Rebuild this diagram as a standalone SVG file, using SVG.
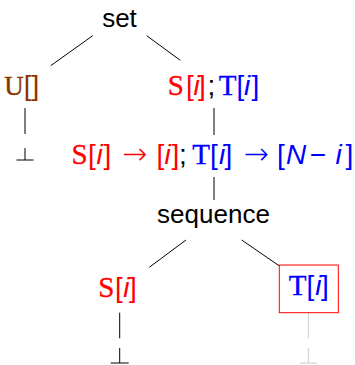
<svg xmlns="http://www.w3.org/2000/svg" width="355" height="365" viewBox="0 0 355 365">
<style>
.lbl{font-family:"Liberation Sans",Arial,sans-serif;font-size:26px;fill:#000}
.row{text-anchor:middle}
.m{font-family:"Liberation Sans",Arial,sans-serif;font-size:28px}
.ar{font-family:"DejaVu Sans",sans-serif;font-size:30px;font-weight:200}
.tt{font-family:"Liberation Serif","Times New Roman",serif;font-size:29px;stroke-width:0.35}
.it{font-style:italic}
.red{fill:#ff0000}
.red.tt{stroke:#ff0000}
.blue{fill:#0000ff}
.blue.tt{stroke:#0000ff}
.brown{fill:#8b3300}
.brown.tt{stroke:#8b3300}
.edge{stroke:#000;stroke-width:1;fill:none}
.ghost{stroke:#cccccc;stroke-width:1;fill:none}
</style>
<g id="connectors">
<line class="edge" x1="92.7" y1="35.7" x2="50.7" y2="65.7"/>
<line class="edge" x1="146.7" y1="35.7" x2="180.3" y2="60.3"/>
<line class="edge" x1="25" y1="108" x2="25" y2="134"/>
<line class="edge" x1="214" y1="108" x2="214" y2="135"/>
<line class="edge" x1="214" y1="177" x2="214" y2="200"/>
<line class="edge" x1="186" y1="240" x2="149.3" y2="267.3"/>
<line class="edge" x1="241.7" y1="240" x2="279" y2="265.7"/>
<line class="edge" x1="119.7" y1="312.7" x2="119.7" y2="338.3"/>
<line class="ghost" x1="308.3" y1="312.3" x2="308.3" y2="338.3"/>
</g>
<g id="n-set"><text class="lbl" x="119.5" y="27" text-anchor="middle">set</text></g>
<g id="n-u"><text class="row" y="94.5"><tspan class="tt brown" x="14" style="font-size:27px">U</tspan><tspan class="m brown" x="31.5">[]</tspan></text></g>
<g id="n-bot1"><path class="edge" d="M16.5 160H33.5M25 160V148"/></g>
<g id="n-st"><text class="row" y="95"><tspan class="tt red" x="175.8">S</tspan><tspan class="m red" x="189.8">[</tspan><tspan class="m red it" x="196.5">i</tspan><tspan class="m red" x="202">]</tspan><tspan class="m" x="211.5">;</tspan><tspan class="tt blue" x="227.5">T</tspan><tspan class="m blue" x="240.5">[</tspan><tspan class="m blue it" x="247.2">i</tspan><tspan class="m blue" x="255.3">]</tspan></text></g>
<g id="n-map"><text class="row" y="164"><tspan class="tt red" x="79.6">S</tspan><tspan class="m red" x="92">[</tspan><tspan class="m red it" x="99.5">i</tspan><tspan class="m red" x="107.3">]</tspan><tspan class="ar red" x="134.5">→</tspan><tspan class="m red" x="160.5">[</tspan><tspan class="m red it" x="167.5">i</tspan><tspan class="m red" x="175.5">]</tspan><tspan class="m" x="183">;</tspan><tspan class="tt blue" x="201">T</tspan><tspan class="m blue" x="214">[</tspan><tspan class="m blue it" x="222">i</tspan><tspan class="m blue" x="228.5">]</tspan><tspan class="ar blue" x="256">→</tspan><tspan class="m blue" x="281">[</tspan><tspan class="m blue it" x="296">N</tspan><tspan class="m blue" x="318">−</tspan><tspan class="m blue it" x="338.5">i</tspan><tspan class="m blue" x="349.5">]</tspan></text></g>
<g id="n-seq"><text class="lbl" x="213.5" y="223" text-anchor="middle">sequence</text></g>
<g id="n-s"><text class="row" y="296.5"><tspan class="tt red" x="106.3">S</tspan><tspan class="m red" x="118.8">[</tspan><tspan class="m red it" x="126.3">i</tspan><tspan class="m red" x="132.8">]</tspan></text></g>
<g id="n-bot2"><path class="edge" d="M110.7 363H128.7M119.7 363V348"/></g>
<g id="n-t"><rect x="279.3" y="265" width="59" height="47.7" fill="none" stroke="#ff0000" stroke-width="1"/><text class="row" y="295"><tspan class="tt blue" x="297.5">T</tspan><tspan class="m blue" x="310.5">[</tspan><tspan class="m blue it" x="318.3">i</tspan><tspan class="m blue" x="325">]</tspan></text></g>
<g id="n-bot3"><path class="ghost" d="M300 363H317M308.3 363V348"/></g>
</svg>
